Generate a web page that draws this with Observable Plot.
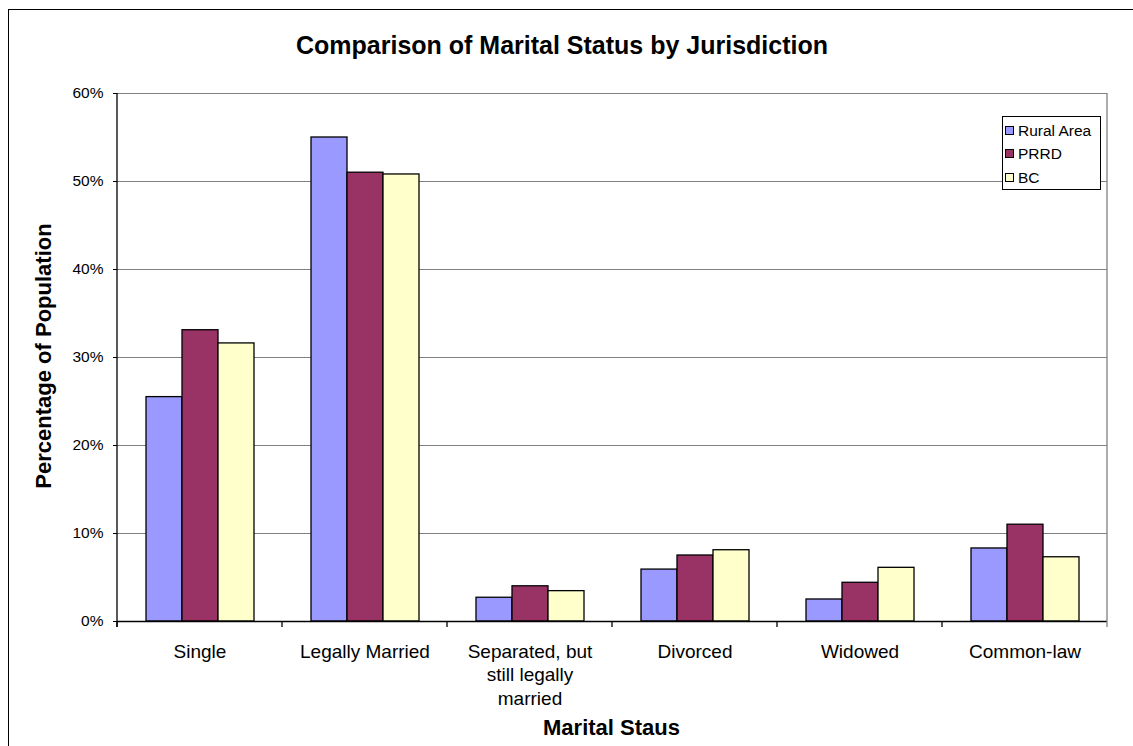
<!DOCTYPE html>
<html>
<head>
<meta charset="utf-8">
<script src="https://cdn.jsdelivr.net/npm/d3@7"></script>
<script src="https://cdn.jsdelivr.net/npm/@observablehq/plot@0.6"></script>
<style>
  html, body { margin: 0; padding: 0; background: #fff; overflow: hidden; }
  #wrap { position: relative; width: 1133px; height: 746px; overflow: hidden; font-family: 'Liberation Sans', Arial, sans-serif; color: #000; }
  #chart { position: absolute; left: 0; top: 0; }
  #border { position: absolute; left: 8px; top: 9px; width: 1200px; height: 800px; border: 1px solid #000; pointer-events: none; }
  #title { position: absolute; left: 0; width: 1124px; top: 33px; text-align: center; font-weight: bold; font-size: 25px; line-height: 25px; white-space: nowrap; }
  #ytitle { position: absolute; left: 43.7px; top: 355.5px; transform: translate(-50%, -50%) rotate(-90deg); font-weight: bold; font-size: 22px; line-height: 22px; white-space: nowrap; }
  #xtitle { position: absolute; left: 611.5px; top: 717px; transform: translateX(-50%); font-weight: bold; font-size: 22px; line-height: 22px; white-space: nowrap; }
  #legend { position: absolute; left: 1002px; top: 116px; width: 97px; height: 70px; border: 1px solid #000; background: #fff; padding-top: 2px; box-sizing: content-box; }
  .row { display: flex; align-items: center; height: 23.3px; font-size: 15.5px; line-height: 23.3px; white-space: nowrap; }
  .sw { width: 7px; height: 7px; border: 1px solid #000; margin-left: 2px; margin-right: 4px; }
</style>
</head>
<body>
<div id="wrap">
  <div id="chart"></div>
  <div id="title">Comparison of Marital Status by Jurisdiction</div>
  <div id="ytitle">Percentage of Population</div>
  <div id="xtitle">Marital Staus</div>
  <div id="legend"></div>
  <div id="border"></div>
</div>
<script>
// ---- Data ----
const categories = ["Single", "Legally Married", "Separated, but still legally married", "Divorced", "Widowed", "Common-law"];
const categoryLabels = ["Single", "Legally Married", "Separated, but\nstill legally\nmarried", "Divorced", "Widowed", "Common-law"];
const series = ["Rural Area", "PRRD", "BC"];
const ruralArea = [25.5, 55.0, 2.7, 5.9, 2.5, 8.3];
const prrd      = [33.1, 51.0, 4.0, 7.5, 4.4, 11.0];
const bc        = [31.6, 50.8, 3.45, 8.1, 6.1, 7.3];
const yTicks = [0, 10, 20, 30, 40, 50, 60];
const seriesColors = ["#9999FF", "#993366", "#FFFFCC"];

const valuesBySeries = [ruralArea, prrd, bc];
const data = categories.flatMap((c, i) =>
  series.map((s, j) => ({category: c, series: s, value: valuesBySeries[j][i]}))
);
const labelOf = new Map(categories.map((c, i) => [c, categoryLabels[i]]));

const plot = Plot.plot({
  width: 1133,
  height: 746,
  marginTop: 93,
  marginBottom: 125,
  marginLeft: 114,
  marginRight: 24,
  style: {fontFamily: "'Liberation Sans', Arial, sans-serif", background: "transparent", color: "#000", overflow: "visible"},
  fx: {domain: categories, padding: 0},
  x: {domain: series, paddingInner: 0, paddingOuter: 0.75, axis: null},
  y: {domain: [0, 60]},
  color: {domain: series, range: seriesColors},
  marks: [
    Plot.gridY(yTicks.slice(1), {stroke: "#808080", strokeOpacity: 1, strokeWidth: 1.2}),
    Plot.barY(data, {fx: "category", x: "series", y: "value", fill: "series", stroke: "#000", strokeWidth: 1.3}),
    Plot.ruleY([0], {stroke: "#000", strokeWidth: 1.3}),
    Plot.axisY({ticks: yTicks, tickFormat: d => d + "%", tickSize: 4, tickPadding: 10, fontSize: 15.5, label: null, fill: "#000", stroke: "#000"}),
    Plot.axisFx({anchor: "bottom", tickSize: 0, tickPadding: 19.8, fontSize: 19, lineHeight: 1.23, label: null, fill: "#000", tickFormat: d => labelOf.get(d)})
  ]
});
document.getElementById("chart").appendChild(plot);

// Axis lines and category boundary ticks, placed with the plot's own scales
const fx = plot.scale("fx");
const y = plot.scale("y");
const svg = d3.select(plot);
const y0 = y.apply(0), yTop = y.apply(60);
const left = fx.apply(categories[0]);
const right = fx.apply(categories[categories.length - 1]) + fx.bandwidth;
const g = svg.append("g");
g.append("line").attr("x1", right).attr("x2", right).attr("y1", yTop).attr("y2", y0 + 6)
  .attr("stroke", "#808080").attr("stroke-width", 1.3);
const bounds = categories.map(c => fx.apply(c));
g.selectAll("line.b").data(bounds).join("line").attr("class", "b")
  .attr("x1", d => d).attr("x2", d => d).attr("y1", y0).attr("y2", y0 + 6)
  .attr("stroke", "#000").attr("stroke-width", 1.3);
g.append("line").attr("x1", left).attr("x2", left).attr("y1", yTop).attr("y2", y0 + 6)
  .attr("stroke", "#000").attr("stroke-width", 1.3);

// Legend
const legend = d3.select("#legend");
series.forEach((s, i) => {
  const row = legend.append("div").attr("class", "row");
  row.append("div").attr("class", "sw").style("background", seriesColors[i]);
  row.append("span").text(s);
});
</script>
</body>
</html>
